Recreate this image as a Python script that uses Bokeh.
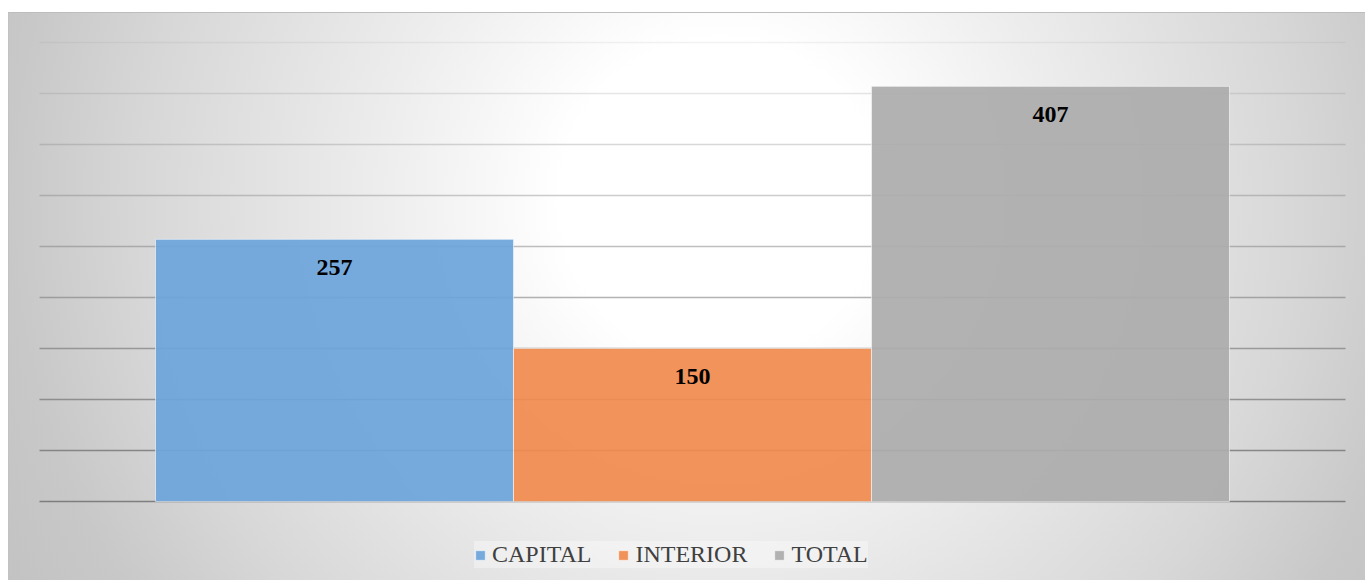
from bokeh.plotting import figure
from bokeh.models import Range1d, ColumnDataSource, Legend, LegendItem, Grid, FixedTicker
from bokeh.core.properties import value
from bokeh.embed import file_html
from bokeh.resources import INLINE

# ---- data ----
categories = ["CAPITAL", "INTERIOR", "TOTAL"]
values = [257, 150, 407]
colors = ["#6da5db", "#f08b4e", "#acacac"]
grid_ticks = [0, 50, 100, 150, 200, 250, 300, 350, 400, 450]

src = ColumnDataSource(dict(
    x=list(range(len(categories))),
    top=values,
    label=[str(v) for v in values],
    cat=categories,
    color=colors,
))

p = figure(
    width=1365, height=580,
    x_range=Range1d(-0.933, 2.880),
    y_range=Range1d(-77.5, 491.2),
    output_backend="svg", toolbar_location=None,
    min_border=0,
)
p.background_fill_color = None
p.border_fill_color = None
p.outline_line_color = None
p.styles = {
    "background": "linear-gradient(#ffffff, #ffffff) 0 0 / 100% 12px no-repeat, "
                  "linear-gradient(#ffffff, #ffffff) 0 0 / 8px 100% no-repeat, "
                  "linear-gradient(#bdbdbd, #bdbdbd) 8px 12px / 100% 1px no-repeat, "
                  "linear-gradient(#c2c2c2, #c2c2c2) 8px 12px / 1px 100% no-repeat, "
                  "radial-gradient(circle at 720px 200px, #ffffff 0px, #ffffff 160px, "
                  "#eeeeee 330px, #d7d7d7 580px, #c8c8c8 710px, #c2c2c2 820px)",
}

p.xaxis.visible = False
p.yaxis.visible = False
p.xgrid.visible = False
p.ygrid.visible = False

# gridlines: darker toward the bottom, limited to the plot area
for t in grid_ticks:
    a = 0.95 - t / 450 * 0.85
    g = Grid(dimension=1, ticker=FixedTicker(ticks=[t]),
             grid_line_color="#7a7a7a", grid_line_alpha=a, grid_line_width=1.5)
    try:
        g.cross_bounds = (-0.825, 2.825)
    except Exception:
        pass
    p.add_layout(g)

r = p.vbar(x="x", top="top", bottom=0, width=1.0, source=src,
           fill_color="color", fill_alpha=0.93,
           line_color="#ffffff", line_alpha=0.55, line_width=1)

p.text(x="x", y="top", text="label", source=src,
       text_align="center", text_baseline="middle", y_offset=28,
       text_font=value("Liberation Serif"), text_font_style="bold",
       text_font_size="24px", text_color="#000000")

legend = Legend(
    items=[LegendItem(label=c, renderers=[r], index=i) for i, c in enumerate(categories)],
    orientation="horizontal", location=(474, 12),
    label_text_font="Liberation Serif", label_text_font_size="24px",
    label_text_color="#404040", label_text_baseline="middle",
    glyph_width=12, glyph_height=12, label_standoff=6, spacing=26,
    padding=8, margin=0, label_height=26,
    background_fill_color="#ffffff", background_fill_alpha=0.35,
    border_line_color=None,
)
p.add_layout(legend, "center")

open("out.html", "w").write(file_html(p, INLINE))
